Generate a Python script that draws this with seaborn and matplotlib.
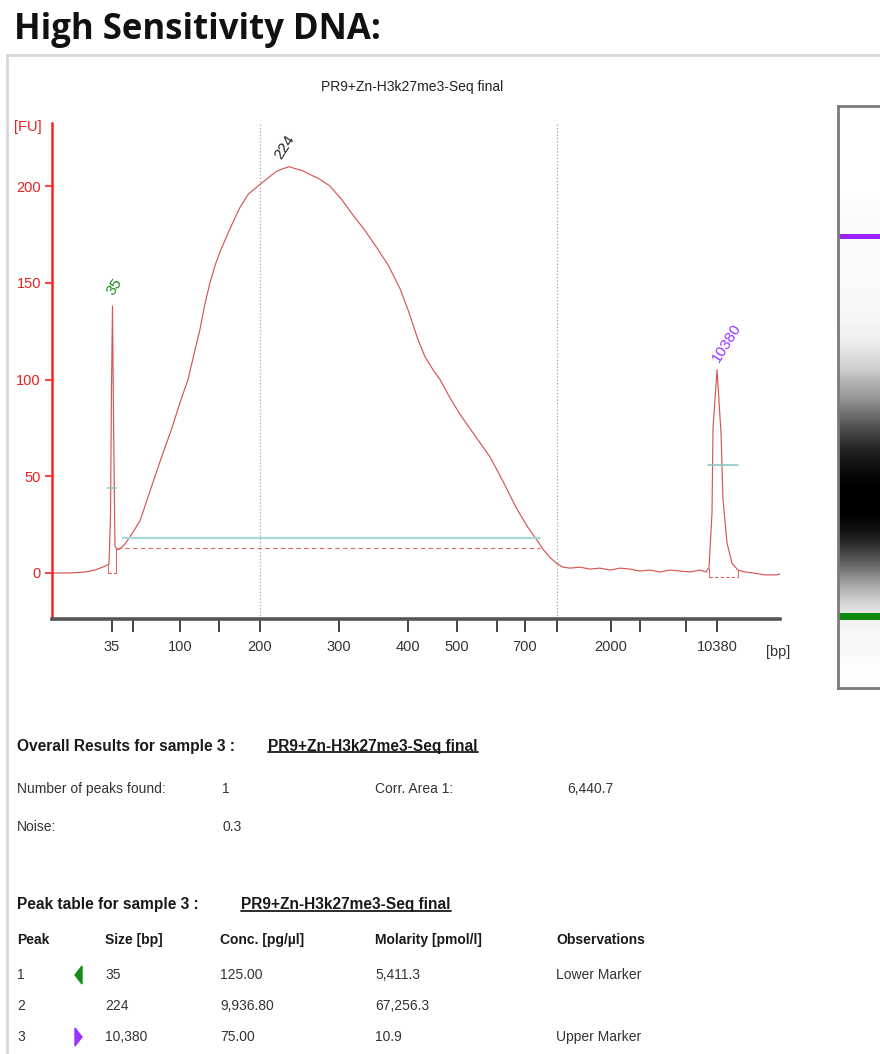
import numpy as np
import pandas as pd
import matplotlib
matplotlib.use('Agg')
import matplotlib.pyplot as plt
import matplotlib.font_manager as fm
from matplotlib.lines import Line2D
from matplotlib.patches import Polygon
import seaborn as sns

# ============================================================
# DATA
# ============================================================
sample_name = 'PR9+Zn-H3k27me3-Seq final'

# HS DNA ladder: fragment size [bp] vs migration time [s]
ladder_bp = [35, 50, 100, 150, 200, 300, 400, 500, 600, 700, 1000, 2000, 3000, 7000, 10380]
ladder_time = [28.24, 31.13, 37.58, 42.94, 48.57, 59.42, 68.90, 75.63, 81.13, 84.97,
               89.37, 96.79, 100.77, 107.09, 111.35]
labelled_bp = [35, 100, 200, 300, 400, 500, 700, 2000, 10380]
grid_bp = [200, 1000]

# electropherogram trace: migration time [s] and fluorescence [FU]
trace_time = [20.00, 22.47, 24.53, 25.91, 27.28, 27.83, 28.04, 28.17, 28.31, 28.45,
              28.65, 28.93, 29.34, 30.03, 30.71, 32.09, 33.05, 34.15, 35.25, 36.48,
              37.58, 38.68, 39.50, 40.33, 41.00, 41.70, 42.40, 43.08, 44.45, 45.82,
              47.00, 48.30, 49.95, 50.80, 51.73, 52.60, 53.38, 54.40, 55.44, 56.80,
              58.19, 59.80, 61.35, 63.00, 64.64, 66.20, 67.80, 69.00, 70.14, 71.20,
              72.34, 73.30, 74.60, 76.04, 78.10, 80.16, 82.00, 83.87, 85.30, 86.62,
              87.50, 88.41, 89.30, 90.19, 91.15, 92.53, 93.90, 95.27, 96.65, 98.02,
              99.40, 100.77, 102.14, 103.52, 104.89, 106.26, 107.64, 109.01, 109.84, 110.25,
              110.66, 110.80, 111.35, 111.90, 112.17, 112.72, 113.41, 114.23, 115.19, 116.29,
              117.94, 119.59, 120.00]
trace_fu = [0.0, 0.0, 0.5, 1.5, 3.5, 4.5, 30, 95, 138, 80,
            14, 12, 12.5, 15, 18.6, 27, 37.7, 50, 62, 75,
            88, 100, 113, 126, 139, 150, 159, 166, 178, 189,
            196, 200, 205, 207.5, 209, 210, 209, 208, 206, 203.5,
            200, 193, 185, 177, 168, 159, 147, 135, 122, 112,
            105, 100, 91, 82, 71, 60, 47, 33, 24, 17,
            12, 8, 5, 3, 2.5, 3, 2, 2.5, 1.5, 2.5,
            2, 1, 1.5, 0.5, 1.5, 1, 0.5, 1.5, 0.5, 3,
            31, 75, 105, 72, 38, 15.5, 5, 1.5, 0.5, 0,
            -1, -1, -0.5]

# peaks: size label, colour, apex time, apex FU
peak_label = ['35', '224', '10380']
peak_color = ['#1a8a1a', '#222222', '#9933ff']
peak_time = [28.31, 51.73, 111.35]
peak_fu = [138, 209, 105]

# integration marks
lower_marker = dict(start=27.76, end=28.79, base=0.0, half=44)
upper_marker = dict(start=110.20, end=114.23, base=-2.0, half=56)
smear = dict(start=28.93, end=87.03, base=13, level_start=29.75, level=18)

# gel lane grey level, top to bottom (1 = white, 0 = black)
gel_shade = [1.0, 1.0, 1.0, 1.0, 1.0, 1.0, 0.99, 0.98, 0.98, 0.98,
             0.98, 0.98, 0.97, 0.97, 0.96, 0.94, 0.88, 0.82, 0.70, 0.60,
             0.46, 0.32, 0.20, 0.10, 0.04, 0.0, 0.0, 0.01, 0.07, 0.20,
             0.36, 0.55, 0.72, 0.86, 0.95, 0.97, 0.97, 0.99, 1.0]

# result tables
n_peaks = 1
noise = 0.3
corr_area = 6440.7
peak_id = [1, 2, 3]
peak_size = [35, 224, 10380]
peak_conc = [125.00, 9936.80, 75.00]
peak_molarity = [5411.3, 67256.3, 10.9]
peak_obs = ['Lower Marker', '', 'Upper Marker']

# ============================================================
# STYLE
# ============================================================
sns.set_style('white')
names = {f.name for f in fm.fontManager.ttflist}
if 'Liberation Sans Narrow' in names:
    NARROW, FS = 'Liberation Sans Narrow', 12
else:
    NARROW, FS = 'Liberation Sans', 10
plt.rcParams['font.family'] = [NARROW, 'DejaVu Sans']
HEAD = 'Open Sans' if 'Open Sans' in names else 'DejaVu Sans'

W, H = 880, 1054
fig = plt.figure(figsize=(W / 100, H / 100), dpi=100)


def fx(x):
    return x / W


def fy(y):
    return 1 - y / H


# heading + report frame
fig.text(fx(14), fy(39), 'High Sensitivity DNA:', family=HEAD, fontweight='bold',
         fontsize=25, color='#111111', va='baseline')
fig.add_artist(Line2D([fx(7), fx(880)], [fy(55), fy(55)], color='#d8d8d8', lw=2))
fig.add_artist(Line2D([fx(7), fx(7)], [fy(55), fy(1054)], color='#d8d8d8', lw=2))

# ============================================================
# ELECTROPHEROGRAM
# ============================================================
ax = fig.add_axes([fx(52), fy(619), 728 / W, 496 / H])
trace = pd.DataFrame({'time': trace_time, 'fu': trace_fu})
sns.lineplot(data=trace, x='time', y='fu', ax=ax, color='#d65555', lw=0.85,
             estimator=None, sort=False)

ax.set_xlim(20, 120)
ax.set_ylim(-23.8, 232.6)

for bp in grid_bp:
    t = ladder_time[ladder_bp.index(bp)]
    ax.axvline(t, color='#a0a6b8', ls=':', lw=0.9, zorder=0)

# smear region baselines
ax.plot([smear['start'], smear['end']], [smear['base'], smear['base']],
        color='#e06060', ls='--', lw=0.8, dashes=(4, 3))
ax.plot([smear['level_start'], smear['end']], [smear['level'], smear['level']],
        color='#a9d6d6', lw=1.6)

# marker integration boxes
for m in (lower_marker, upper_marker):
    ax.plot([m['start'], m['end']], [m['base'], m['base']], color='#e06060',
            ls='--', lw=0.8, dashes=(3, 2))
    for t in (m['start'], m['end']):
        top = np.interp(t, trace_time, trace_fu)
        ax.plot([t, t], [m['base'], top], color='#e06060', lw=0.7)
ax.plot([lower_marker['start'], lower_marker['end']], [lower_marker['half']] * 2,
        color='#8fc4c4', lw=1.2)
ax.plot([upper_marker['start'] - 0.15, upper_marker['end']], [upper_marker['half']] * 2,
        color='#8fc4c4', lw=1.2)

# peak labels
offsets = [(1.5, 6), (1, 5), (7, 4)]
for lab, col, t, f, off in zip(peak_label, peak_color, peak_time, peak_fu, offsets):
    ax.annotate(lab, xy=(t, f), xytext=off, textcoords='offset points',
                rotation=58, ha='center', va='bottom', color=col, fontsize=FS + 1)

# axes styling
for s in ('top', 'right'):
    ax.spines[s].set_visible(False)
ax.spines['left'].set_color('#ff2020')
ax.spines['left'].set_linewidth(1.8)
ax.spines['bottom'].set_color('#555555')
ax.spines['bottom'].set_linewidth(2.6)

ax.set_yticks([0, 50, 100, 150, 200])
ax.tick_params(axis='y', colors='#ff2020', labelcolor='#e82020', length=5, width=1.2,
               pad=3, labelsize=FS + 0.5, left=True)
ax.set_xticks(ladder_time)
ax.set_xticklabels([str(b) if b in labelled_bp else '' for b in ladder_bp])
ax.tick_params(axis='x', colors='#444444', labelcolor='#333333', length=9, width=1.4,
               pad=6, labelsize=FS + 0.5, bottom=True)
ax.set_xlabel('')
ax.set_ylabel('')

fig.text(fx(14), fy(127), '[FU]', color='#e82020', fontsize=FS + 0.5, va='center')
fig.text(fx(778), fy(652), '[bp]', color='#333333', fontsize=FS + 0.5, va='center', ha='center')
fig.text(fx(412), fy(87), sample_name, color='#222222', fontsize=FS, va='center', ha='center')

# ============================================================
# GEL LANE
# ============================================================
gax = fig.add_axes([fx(838), fy(688), 60 / W, (688 - 106) / H])
g_top = 28.24 + (617 - 106) / 4.575
g_bot = 28.24 + (617 - 688) / 4.575
gel = np.array(gel_shade).reshape(-1, 1)
gax.imshow(gel, cmap='gray', vmin=0, vmax=1, aspect='auto', interpolation='bilinear',
           extent=[0, 1, g_bot, g_top], origin='upper')
gax.axhspan(peak_time[2] - 0.55, peak_time[2] + 0.55, color='#9a22ff', lw=0)
gax.axhspan(peak_time[0] - 0.75, peak_time[0] + 0.75, color='#0f8a0f', lw=0)
gax.set_xlim(0, 1)
gax.set_ylim(g_bot, g_top)
gax.set_xticks([])
gax.set_yticks([])
for s in ('left', 'top', 'bottom'):
    gax.spines[s].set_color('#7a7a7a')
    gax.spines[s].set_linewidth(2)
gax.spines['right'].set_visible(False)

# ============================================================
# RESULT TABLES
# ============================================================
TXT = '#333333'
BOLD = '#1a1a1a'
underlined = []


def put(x, y, s, bold=False, under=False, size=None):
    t = fig.text(fx(x), fy(y), s, fontsize=size or FS, va='center',
                 fontweight='bold' if bold else 'normal',
                 color=BOLD if bold else TXT)
    if under:
        underlined.append(t)
    return t


SEC = FS * 1.12
put(17, 746, 'Overall Results for sample 3 :', bold=True, size=SEC)
put(268, 746, sample_name, bold=True, under=True, size=SEC)
put(17, 789, 'Number of peaks found:')
put(222, 789, str(n_peaks))
put(375, 789, 'Corr. Area 1:')
put(567, 789, f'{corr_area:,.1f}')
put(17, 827, 'Noise:')
put(222, 827, f'{noise:.1f}')

put(17, 905, 'Peak table for sample 3 :', bold=True, size=SEC)
put(241, 905, sample_name, bold=True, under=True, size=SEC)
cols = [17, 105, 220, 375, 556]
for x, h in zip(cols, ['Peak', 'Size [bp]', 'Conc. [pg/\u00b5l]', 'Molarity [pmol/l]',
                       'Observations']):
    put(x, 940, h, bold=True)
row_y = [975, 1006, 1037]
for y, pid, sz, c, m, ob in zip(row_y, peak_id, peak_size, peak_conc, peak_molarity, peak_obs):
    put(cols[0], y, str(pid))
    put(cols[1], y, f'{sz:,}')
    put(cols[2], y, f'{c:,.2f}')
    put(cols[3], y, f'{m:,.1f}')
    put(cols[4], y, ob)

# marker arrows in the peak table
tri_l = [(fx(75), fy(975)), (fx(82), fy(966)), (fx(82), fy(984))]
tri_r = [(fx(82), fy(1037)), (fx(75), fy(1028)), (fx(75), fy(1046))]
fig.add_artist(Polygon(tri_l, closed=True, color=peak_color[0], transform=fig.transFigure))
fig.add_artist(Polygon(tri_r, closed=True, color=peak_color[2], transform=fig.transFigure))

# underline the sample names
fig.canvas.draw()
r = fig.canvas.get_renderer()
inv = fig.transFigure.inverted()
for t in underlined:
    bb = t.get_window_extent(r)
    (x0, y0), (x1, _) = inv.transform([(bb.x0, bb.y0), (bb.x1, bb.y1)])
    fig.add_artist(Line2D([x0, x1], [y0 + 0.001, y0 + 0.001], color=BOLD, lw=1.3))

fig.savefig('out.png', dpi=100)
